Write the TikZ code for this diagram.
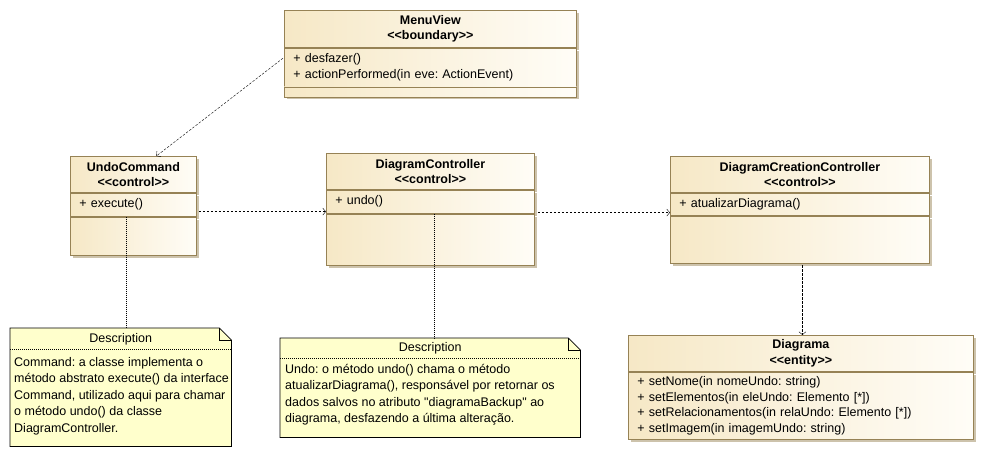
\documentclass[tikz,border=0pt]{standalone}
\usepackage{fontspec}
\setmainfont{Liberation Sans}
\usetikzlibrary{arrows.meta, positioning, calc, shadows}
\frenchspacing

\definecolor{classleft}{RGB}{246, 232, 198}
\definecolor{classright}{RGB}{255, 253, 247}
\definecolor{classline}{RGB}{150, 130, 85}
\definecolor{shadowtan}{RGB}{205, 195, 172}
\definecolor{notefill}{RGB}{255, 255, 204}

\tikzset{
  classpart/.style={draw=classline, line width=0.8pt, left color=classleft, right color=classright,
    inner xsep=9pt, inner ysep=0pt, anchor=north west, font=\fontsize{12.5}{15.5}\selectfont,
    drop shadow={shadow xshift=2.5pt, shadow yshift=-2.5pt, fill=shadowtan, opacity=1}},
  classhead/.style={classpart, align=center, font=\fontsize{12.5}{15.5}\selectfont\bfseries},
  classops/.style={classpart, align=left},
  dep/.style={draw, dash pattern=on 2.5pt off 1.5pt, -{Straight Barb[length=3pt, width=7pt]}},
  notelink/.style={draw, dash pattern=on 1pt off 1pt},
  notebox/.style={fill=notefill, draw=black, line width=0.8pt},
  notetext/.style={font=\fontsize{12.5}{16.5}\selectfont, align=left, inner sep=0pt, anchor=north west},
}

\begin{document}
\begin{tikzpicture}[x=1pt, y=-1pt]
  \useasboundingbox (0,0) rectangle (984,457);

  % MenuView
  \node[classhead, text width=274pt, minimum height=37pt] (menuHead) at (284,10) {MenuView\\<{}<boundary>{}>};
  \node[classops, text width=274pt, minimum height=38pt] (menuOps) at (menuHead.south west) {+ desfazer()\\+ actionPerformed(in eve: ActionEvent)};
  \node[classops, text width=274pt, minimum height=10pt] (menuBottom) at (menuOps.south west) {};

  % UndoCommand
  \node[classhead, text width=108pt, minimum height=36pt] (undoHead) at (70,156) {UndoCommand\\<{}<control>{}>};
  \node[classops, text width=108pt, minimum height=23pt] (undoOps) at (undoHead.south west) {+ execute()};
  \node[classops, text width=108pt, minimum height=38pt] (undoBottom) at (undoOps.south west) {};

  % DiagramController
  \node[classhead, text width=190pt, minimum height=36pt] (dcHead) at (326,153) {DiagramController\\<{}<control>{}>};
  \node[classops, text width=190pt, minimum height=23pt] (dcOps) at (dcHead.south west) {+ undo()};
  \node[classops, text width=190pt, minimum height=51pt] (dcBottom) at (dcOps.south west) {};

  % DiagramCreationController
  \node[classhead, text width=241pt, minimum height=36pt] (dccHead) at (670,156) {DiagramCreationController\\<{}<control>{}>};
  \node[classops, text width=241pt, minimum height=22pt] (dccOps) at (dccHead.south west) {+ atualizarDiagrama()};
  \node[classops, text width=241pt, minimum height=47pt] (dccBottom) at (dccOps.south west) {};

  % Diagrama
  \node[classhead, text width=327pt, minimum height=36pt] (diagHead) at (628,335) {Diagrama\\<{}<entity>{}>};
  \node[classops, text width=327pt, minimum height=67pt] (diagOps) at (diagHead.south west) {+ setNome(in nomeUndo: string)\\+ setElementos(in eleUndo: Elemento [*])\\+ setRelacionamentos(in relaUndo: Elemento [*])\\+ setImagem(in imagemUndo: string)};

  % Note on UndoCommand
  \node[anchor=north west, minimum width=221pt, minimum height=118pt, inner sep=0pt] (note1) at (10,328) {};
  \draw[notebox] (note1.north west) -- ([xshift=-12pt]note1.north east) -- ([yshift=-12pt]note1.north east)
    -- (note1.south east) -- (note1.south west) -- cycle;
  \draw ([xshift=-12pt]note1.north east) |- ([yshift=-12pt]note1.north east);
  \draw[notelink] ([yshift=-21pt]note1.north west) -- ([yshift=-21pt]note1.north east);
  \node[font=\fontsize{12.5}{14}\selectfont] (note1title) at ([yshift=-11pt]note1.north) {Description};
  \node[notetext] (note1body) at ([xshift=4pt, yshift=-29pt]note1.north west)
    {Command: a classe implementa o\\método abstrato execute() da interface\\Command, utilizado aqui para chamar\\o método undo() da classe\\DiagramController.};

  % Note on DiagramController
  \node[anchor=north west, minimum width=300pt, minimum height=99pt, inner sep=0pt] (note2) at (280,338) {};
  \draw[notebox] (note2.north west) -- ([xshift=-12pt]note2.north east) -- ([yshift=-12pt]note2.north east)
    -- (note2.south east) -- (note2.south west) -- cycle;
  \draw ([xshift=-12pt]note2.north east) |- ([yshift=-12pt]note2.north east);
  \draw[notelink] ([yshift=-20pt]note2.north west) -- ([yshift=-20pt]note2.north east);
  \node[font=\fontsize{12.5}{14}\selectfont] (note2title) at ([yshift=-10pt]note2.north) {Description};
  \node[notetext] (note2body) at ([xshift=5pt, yshift=-26pt]note2.north west)
    {Undo: o método undo() chama o método\\atualizarDiagrama(), responsável por retornar os\\dados salvos no atributo \textquotedbl diagramaBackup\textquotedbl{} ao\\diagrama, desfazendo a última alteração.};

  % dependencies
  \draw[dep] ([xshift=-1pt, yshift=9pt]menuOps.west) -- ([xshift=23pt]undoHead.north);
  \draw[dep] ([xshift=2pt, yshift=5pt]undoOps.south east) -- ([yshift=5pt]undoOps.south east -| dcOps.west);
  \draw[dep] ([xshift=3pt, yshift=1pt]dcOps.south east) -- ([yshift=1pt]dcOps.south east -| dccOps.west);
  \draw[dep, shorten <=2pt] ([xshift=2.5pt]dccBottom.south) -- ([xshift=2.5pt]dccBottom.south |- diagHead.north);

  % note links
  \draw[notelink] ([xshift=-7pt]undoBottom.north) -- ([xshift=-7pt]undoBottom.north |- note1.north);
  \draw[notelink] ([xshift=4pt]dcBottom.north) -- ([xshift=4pt]dcBottom.north |- note2.north);
\end{tikzpicture}
\end{document}
